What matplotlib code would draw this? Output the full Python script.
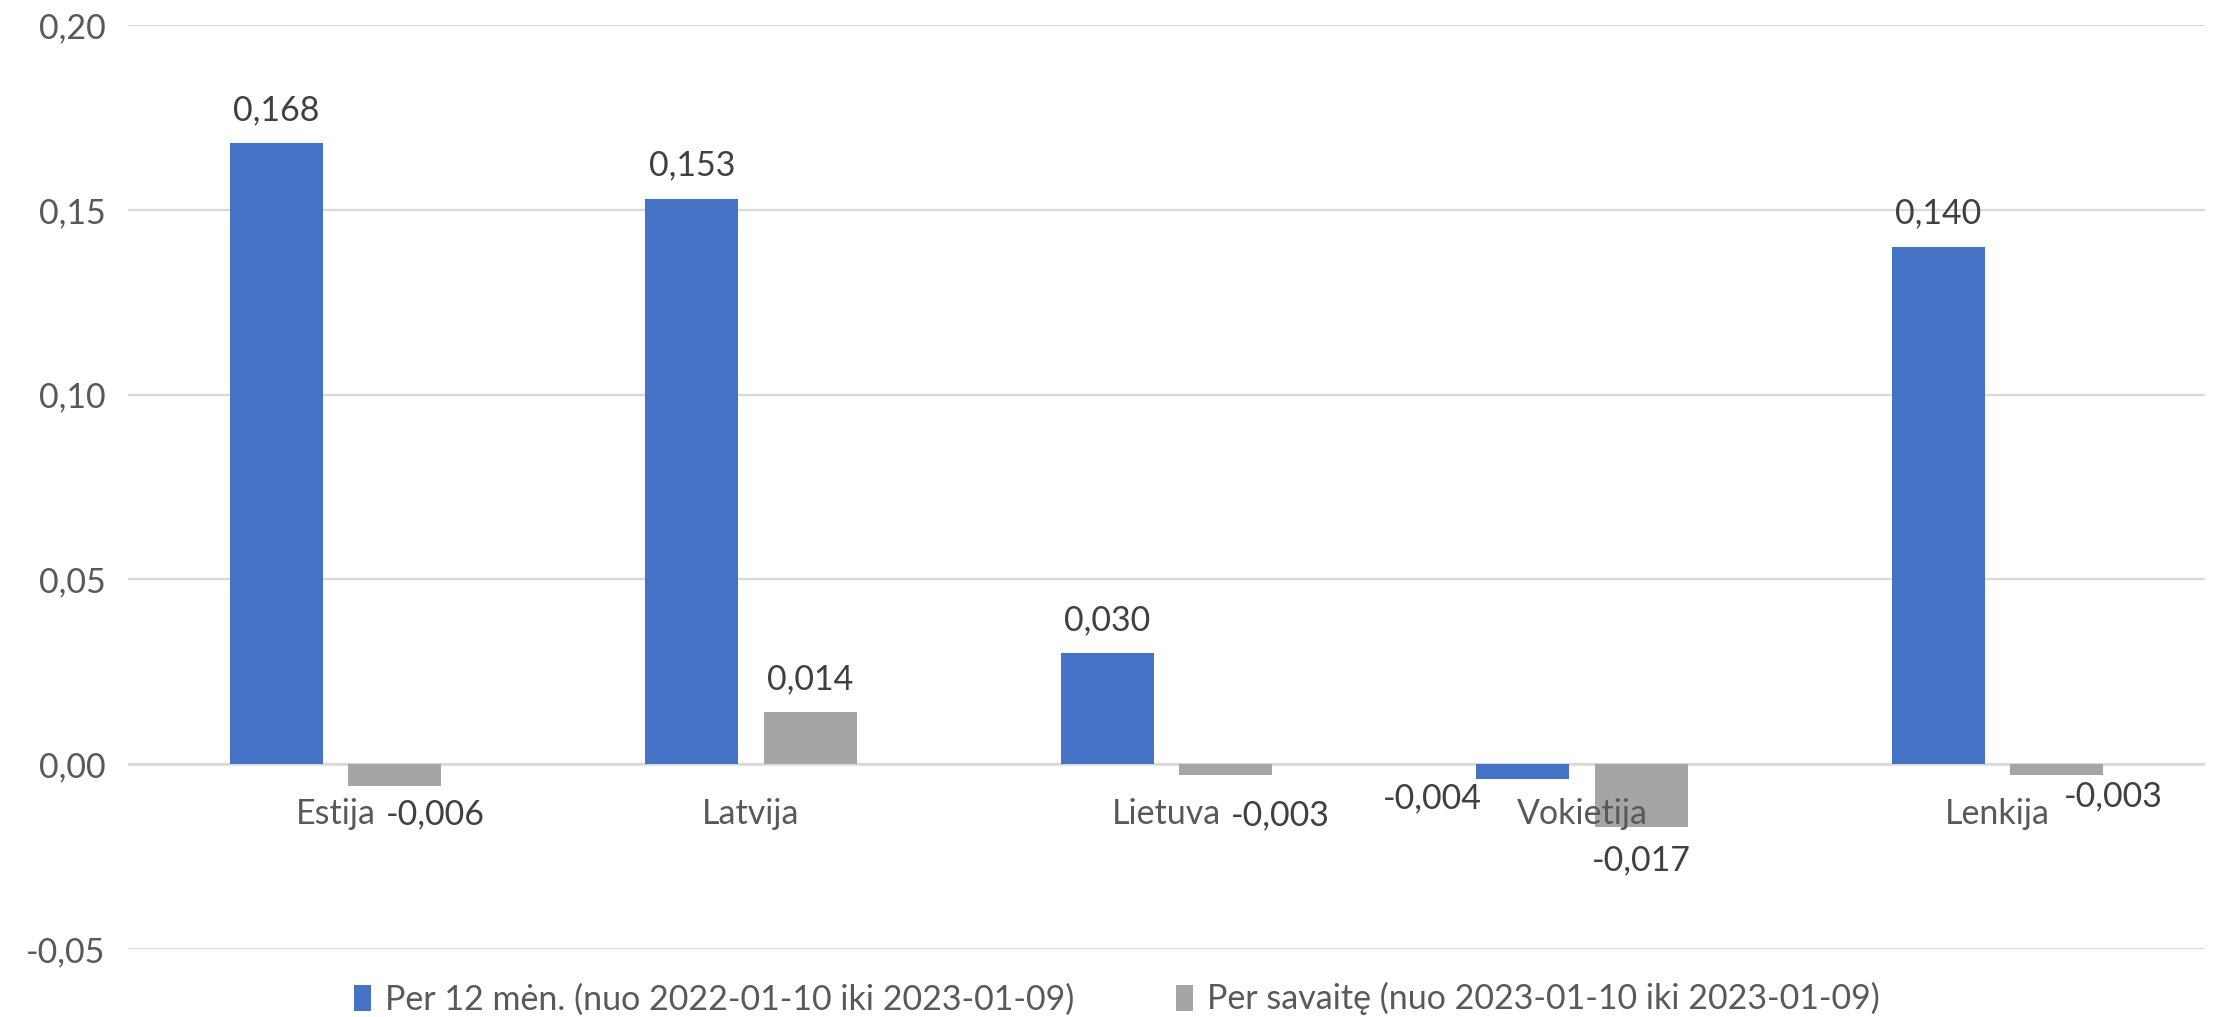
import matplotlib.pyplot as plt
import numpy as np

countries = ["Estija", "Latvija", "Lietuva", "Vokietija", "Lenkija"]
year_vals = [0.168, 0.153, 0.030, -0.004, 0.140]
week_vals = [-0.006, 0.014, -0.003, -0.017, -0.003]
year_label = "Per 12 mėn. (nuo 2022-01-10 iki 2023-01-09)"
week_label = "Per savaitę (nuo 2023-01-10 iki 2023-01-09)"
yticks = [-0.05, 0.0, 0.05, 0.10, 0.15, 0.20]

# label offsets (points) for negative values, Excel put them oddly
neg_off_year = {3: (-65, -14)}
neg_off_week = {0: (29, -20), 2: (39, -29), 3: (0, -24), 4: (41, -15)}

plt.rcParams['font.family'] = ['Lato', 'DejaVu Sans']
txt = '#595959'
fs = 24.5

fig = plt.figure(figsize=(22.13, 10.17), dpi=100)
ax = fig.add_axes([0.0578, 0.0669, 0.9386, 0.9085])

x = np.arange(len(countries))
off = 0.1427
w = 0.224
b1 = ax.bar(x - off, year_vals, w, color='#4472C4', label=year_label, zorder=2)
b2 = ax.bar(x + off, week_vals, w, color='#A5A5A5', label=week_label, zorder=2)

def fmt(v):
    return f"{v:.3f}".replace('.', ',')

for i, v in enumerate(year_vals):
    if v >= 0:
        dx, dy = 0, 24
    else:
        dx, dy = neg_off_year.get(i, (0, -20))
    ax.annotate(fmt(v), (x[i] - off, v), xytext=(dx, dy), textcoords='offset points',
                ha='center', va='center', fontsize=fs, color='#404040', zorder=5)
for i, v in enumerate(week_vals):
    if v >= 0:
        dx, dy = 0, 24
    else:
        dx, dy = neg_off_week.get(i, (0, -20))
    ax.annotate(fmt(v), (x[i] + off, v), xytext=(dx, dy), textcoords='offset points',
                ha='center', va='center', fontsize=fs, color='#404040', zorder=5)

# category names sit just under the zero line
for i, c in enumerate(countries):
    ax.annotate(c, (x[i], 0), xytext=(0, -36), textcoords='offset points',
                ha='center', va='center', fontsize=fs, color=txt, zorder=5)

ax.set_xlim(-0.5, len(countries) - 0.5)
ax.set_ylim(-0.05, 0.20)
ax.set_yticks(yticks)
ax.set_yticklabels([f"{t:.2f}".replace('.', ',') for t in yticks])
ax.set_xticks([])
ax.tick_params(axis='y', length=0, labelsize=fs, labelcolor=txt, pad=16)
ax.grid(axis='y', color='#d9d9d9', linewidth=1.6, zorder=0)
ax.axhline(0, color='#d9d9d9', linewidth=1.8, zorder=1)
for s in ax.spines.values():
    s.set_visible(False)

ax.legend(loc='center', bbox_to_anchor=(0.476, -0.054), ncol=2, frameon=False,
          fontsize=fs, labelcolor=txt, handlelength=0.5, handleheight=0.8,
          handletextpad=0.4, columnspacing=3.0)

fig.savefig('out.png', dpi=100)
